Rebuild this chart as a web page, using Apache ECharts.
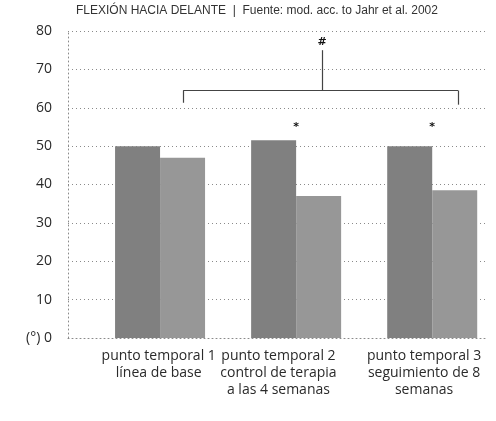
<!DOCTYPE html>
<html>
<head>
<meta charset="utf-8">
<script src="https://cdn.jsdelivr.net/npm/echarts@6/dist/echarts.min.js"></script>
<style>
  html, body { margin: 0; padding: 0; background: #fff; }
  #chart { width: 496px; height: 421px; }
</style>
</head>
<body>
<div id="chart"></div>
<script>
// Forward flexion (degrees) at three time points
const categories = [
  'punto temporal 1\nlínea de base',
  'punto temporal 2\ncontrol de terapia\na las 4 semanas',
  'punto temporal 3\nseguimiento de 8\nsemanas'
];
const groupA = [50, 51.5, 50];
const groupB = [47, 37, 38.5];
const yTicks = [0, 10, 20, 30, 40, 50, 60, 70, 80];
const titleText = 'FLEXIÓN HACIA DELANTE  |  Fuente: mod. acc. to Jahr et al. 2002';

const positions = categories.map((_, i) => i + 1);
const dataA = positions.map((x, i) => [x, groupA[i]]);
const dataB = positions.map((x, i) => [x, groupB[i]]);

// category captions sit slightly left of the group centres
const captionAt = [0.99, 1.87, 2.94];
const captionFor = v => {
  let best = 0;
  captionAt.forEach((c, i) => { if (Math.abs(c - v) < Math.abs(captionAt[best] - v)) best = i; });
  return categories[best];
};

const dotted = { color: '#8a8a8a', type: [1, 3], width: 1 };
const labelFont = { fontFamily: 'Open Sans', color: '#2a2a2a' };

// significance bracket across the second bars
const bracketY = 64.5;
const xL = 1.17, xM = 2.19, xR = 3.19;
const bracketLines = [
  [{ coord: [xL, 61.3] }, { coord: [xL, bracketY] }],
  [{ coord: [xL, bracketY] }, { coord: [xR, bracketY] }],
  [{ coord: [xR, bracketY] }, { coord: [xR, 60.8] }],
  [{ coord: [xM, bracketY] }, { coord: [xM, 75] }]
];

const chart = echarts.init(document.getElementById('chart'), null, { renderer: 'canvas' });
chart.setOption({
  animation: false,
  backgroundColor: '#fff',
  title: {
    text: titleText,
    left: 71, top: 0,
    textStyle: { fontFamily: 'Liberation Sans', fontSize: 12, fontWeight: 'normal', color: '#333' }
  },
  grid: { left: 68, right: 8, top: 31, bottom: 83 },
  xAxis: {
    type: 'value',
    min: 0.3235, max: 3.41,
    axisLine: { show: true, lineStyle: dotted },
    axisTick: { show: false },
    splitLine: { show: false },
    axisLabel: {
      customValues: captionAt,
      formatter: v => captionFor(v),
      interval: 0,
      showMinLabel: true,
      showMaxLabel: true,
      hideOverlap: false,
      margin: 10,
      fontSize: 14,
      lineHeight: 17,
      align: 'center',
      ...labelFont
    }
  },
  yAxis: {
    type: 'value',
    min: 0, max: 80, interval: 10,
    axisLine: { show: true, lineStyle: dotted },
    axisTick: { show: false },
    splitLine: { show: true, lineStyle: dotted },
    axisLabel: {
      margin: 16,
      fontSize: 14,
      formatter: v => (v === 0 ? '(°) 0' : String(v)),
      ...labelFont
    }
  },
  series: [
    {
      type: 'bar',
      data: dataA,
      barWidth: 45,
      barGap: '0%',
      itemStyle: { color: '#808080' }
    },
    {
      type: 'bar',
      data: dataB,
      barWidth: 45,
      barGap: '0%',
      itemStyle: { color: '#979797' }
    },
    {
      // annotation layer: bracket, '#' and '*' markers
      type: 'line',
      data: [],
      silent: true,
      markLine: {
        silent: true,
        symbol: ['none', 'none'],
        label: { show: false },
        lineStyle: { color: '#444', type: 'solid', width: 1.2 },
        data: bracketLines
      },
      markPoint: {
        silent: true,
        symbol: 'circle',
        symbolSize: 0,
        label: {
          show: true,
          color: '#111',
          fontFamily: 'DejaVu Sans',
          fontSize: 11,
          fontWeight: 'bold',
          formatter: p => p.name
        },
        data: [
          { name: '#', coord: [xM, 77] },
          { name: '*', coord: [2.0, 55] },
          { name: '*', coord: [3.0, 55] }
        ]
      }
    }
  ]
});
</script>
</body>
</html>
